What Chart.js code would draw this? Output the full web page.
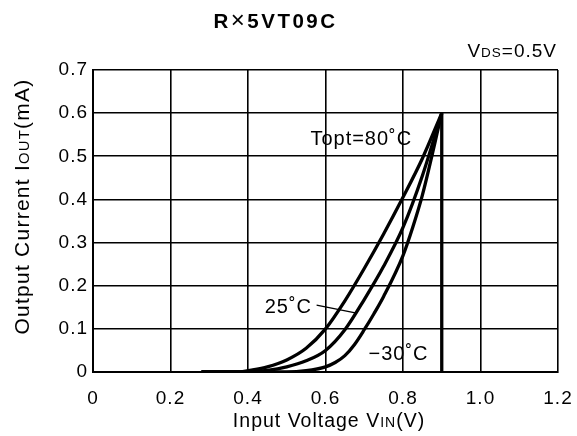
<!DOCTYPE html>
<html><head><meta charset="utf-8">
<script src="https://cdn.jsdelivr.net/npm/chart.js@4"></script>
<style>html,body{margin:0;padding:0;background:#fff}canvas{display:block}</style>
</head><body>
<canvas id="c" width="577" height="436"></canvas>
<script>
// ---- data ----
const xTickLabels = ['0', '0.2', '0.4', '0.6', '0.8', '1.0', '1.2'];
const yTickLabels = ['0', '0.1', '0.2', '0.3', '0.4', '0.5', '0.6', '0.7'];

const vin80  = [0.28, 0.38, 0.40, 0.45, 0.50, 0.55, 0.60, 0.65, 0.70, 0.75, 0.80, 0.85, 0.90];
const iout80 = [0, 0, 0.003, 0.012, 0.028, 0.055, 0.10, 0.165, 0.24, 0.32, 0.405, 0.495, 0.60];

const vin25  = [0.28, 0.38, 0.40, 0.45, 0.50, 0.55, 0.60, 0.65, 0.70, 0.75, 0.80, 0.85, 0.90];
const iout25 = [0, 0, 0.001, 0.004, 0.012, 0.026, 0.05, 0.098, 0.168, 0.245, 0.335, 0.455, 0.60];

const vinM30  = [0.28, 0.38, 0.50, 0.55, 0.60, 0.625, 0.65, 0.675, 0.70, 0.725, 0.75, 0.80, 0.825, 0.85, 0.90];
const ioutM30 = [0, 0, 0, 0.003, 0.012, 0.022, 0.038, 0.064, 0.098, 0.135, 0.175, 0.27, 0.335, 0.41, 0.60];

const vinEdge  = [0.9, 0.9];
const ioutEdge = [0, 0.6];

const leaderV = [0.577, 0.677];
const leaderI = [0.155, 0.137];

const curveLabels = ['Topt=80˚C', '25˚C', '\u221230˚C'];

// ---- layout / style (not data) ----
const FONT = '"Liberation Sans", Arial, Helvetica, sans-serif';
const labelAnchors = [ {v: 0.561, i: 0.527}, {v: 0.443, i: 0.136}, {v: 0.711, i: 0.028} ];

function pts(xs, ys) { return xs.map((x, k) => ({x: x, y: ys[k]})); }
function curve(xs, ys, w) {
  return { data: pts(xs, ys), showLine: true, borderColor: '#000', backgroundColor: '#000',
           borderWidth: w, pointRadius: 0, fill: false, cubicInterpolationMode: 'monotone' };
}

function drawRuns(ctx, runs, x, y, align) {
  let w = 0;
  runs.forEach(r => { ctx.font = (r[2] ? 'bold ' : '') + r[1] + 'px ' + FONT; w += ctx.measureText(r[0]).width; });
  let cx = align === 'center' ? x - w / 2 : (align === 'right' ? x - w : x);
  runs.forEach(r => {
    ctx.font = (r[2] ? 'bold ' : '') + r[1] + 'px ' + FONT;
    ctx.fillText(r[0], cx, y);
    cx += ctx.measureText(r[0]).width;
  });
}

const textPlugin = {
  id: 'texts',
  beforeDraw(chart) {
    chart.ctx.letterSpacing = '1px';
  },
  afterDraw(chart) {
    const ctx = chart.ctx;
    const xs = chart.scales.x, ys = chart.scales.y;
    ctx.save();
    ctx.fillStyle = '#000';
    ctx.textAlign = 'left';
    ctx.textBaseline = 'alphabetic';
    // title
    ctx.letterSpacing = '2.5px';
    drawRuns(ctx, [['R', 20.5, true], ['\u00D7', 24, false], ['5VT09C', 20.5, true]], 275.5, 28, 'center');
    ctx.letterSpacing = '1px';
    // VDS
    drawRuns(ctx, [['V', 19], ['DS', 13.5], ['=0.5V', 19]], 557, 57, 'right');
    // x title
    drawRuns(ctx, [['Input Voltage V', 19.5], ['IN', 14], ['(V)', 19.5]], 329, 427, 'center');
    // y title
    ctx.save();
    ctx.translate(29, 206.5);
    ctx.rotate(-Math.PI / 2);
    ctx.letterSpacing = '1.25px';
    drawRuns(ctx, [['Output Current I', 21], ['OUT', 14.8], ['(mA)', 21]], 0, 0, 'center');
    ctx.restore();
    // curve labels
    curveLabels.forEach((t, k) => {
      const a = labelAnchors[k];
      drawRuns(ctx, [[t, 20]], xs.getPixelForValue(a.v), ys.getPixelForValue(a.i), 'left');
    });
    ctx.restore();
  }
};

new Chart(document.getElementById('c'), {
  type: 'scatter',
  data: {
    datasets: [
      curve(vin80, iout80, 3.3),
      curve(vin25, iout25, 3.3),
      curve(vinM30, ioutM30, 3.3),
      curve(vinEdge, ioutEdge, 3.3),
      curve(leaderV, leaderI, 1.2)
    ]
  },
  options: {
    responsive: false,
    animation: false,
    events: [],
    layout: { padding: { top: 70, right: 19, left: 0, bottom: 0 } },
    plugins: { legend: { display: false }, tooltip: { enabled: false }, title: { display: false } },
    scales: {
      x: {
        type: 'linear', min: 0, max: 1.2,
        ticks: { stepSize: 0.2, autoSkip: false, maxRotation: 0, color: '#000', padding: 15,
                 font: { family: FONT, size: 19 }, callback: (v, i) => xTickLabels[i] },
        grid: { color: '#000', lineWidth: 1.6, drawTicks: false },
        border: { color: '#000', width: 2 },
        afterFit: s => { s.height = 64; s.paddingLeft = 0; s.paddingRight = 0; }
      },
      y: {
        type: 'linear', min: 0, max: 0.7,
        ticks: { stepSize: 0.1, autoSkip: false, color: '#000', padding: 5,
                 font: { family: FONT, size: 19 }, callback: (v, i) => yTickLabels[i] },
        grid: { color: '#000', lineWidth: 1.6, drawTicks: false },
        border: { color: '#000', width: 2 },
        afterFit: s => { s.width = 93; s.paddingTop = 0; s.paddingBottom = 0; }
      }
    }
  },
  plugins: [textPlugin]
});
</script>
</body></html>
